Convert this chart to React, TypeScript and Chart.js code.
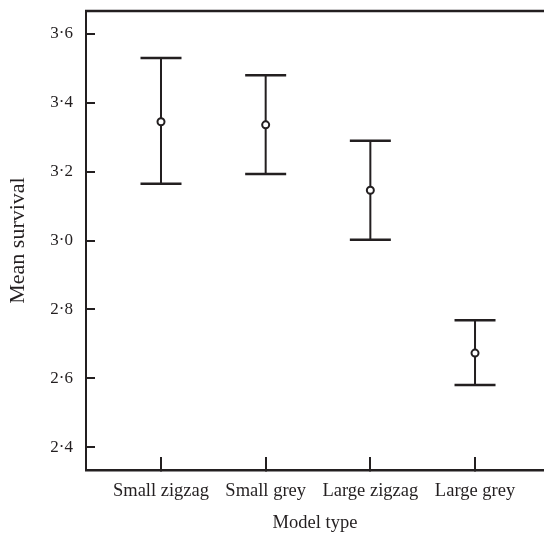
import React, { useEffect, useRef } from 'react';
import { Chart, registerables } from 'chart.js';

Chart.register(...registerables);

// ---- data ----
const categories = ['Small zigzag', 'Small grey', 'Large zigzag', 'Large grey'];
const meanSurvival = [3.345, 3.336, 3.146, 2.673];
const upperLimit = [3.53, 3.48, 3.29, 2.768];
const lowerLimit = [3.165, 3.193, 3.002, 2.58];
const yTickValues = [2.4, 2.6, 2.8, 3.0, 3.2, 3.4, 3.6];

const INK = '#231f20';
const FONT_FAMILY = '"Liberation Serif", "Times New Roman", serif';

const frameTop = {
  id: 'frameTop',
  afterDraw(chart: any) {
    const { ctx, chartArea } = chart;
    ctx.save();
    ctx.strokeStyle = INK;
    ctx.lineWidth = 2.5;
    ctx.beginPath();
    ctx.moveTo(chartArea.left - 1, chartArea.top);
    ctx.lineTo(chartArea.right, chartArea.top);
    ctx.stroke();
    ctx.restore();
  },
};

function zeroPadding(s: any) {
  s.paddingTop = 0;
  s.paddingBottom = 0;
  s.paddingLeft = 0;
  s.paddingRight = 0;
}

export default function App() {
  const ref = useRef<HTMLCanvasElement | null>(null);

  useEffect(() => {
    if (!ref.current) return;
    const xs = categories.map((_, i) => i + 1);

    const whiskerData: any[] = [];
    xs.forEach((x, i) => {
      whiskerData.push({ x, y: lowerLimit[i] });
      whiskerData.push({ x, y: upperLimit[i] });
      whiskerData.push({ x, y: null });
    });
    const capData: any[] = [];
    xs.forEach((x, i) => {
      capData.push({ x, y: upperLimit[i] });
      capData.push({ x, y: lowerLimit[i] });
    });
    const meanData = xs.map((x, i) => ({ x, y: meanSurvival[i] }));

    const tickFontY = { family: FONT_FAMILY, size: 17 };
    const tickFontX = { family: FONT_FAMILY, size: 18.5 };
    const titleFontX = { family: FONT_FAMILY, size: 18.5 };
    const titleFontY = { family: FONT_FAMILY, size: 22 };

    const chart = new Chart(ref.current, {
      type: 'scatter',
      data: {
        datasets: [
          {
            label: 'mean',
            data: meanData,
            order: 0,
            pointStyle: 'circle',
            pointRadius: 3.5,
            pointBorderWidth: 2,
            pointBackgroundColor: '#ffffff',
            pointBorderColor: INK,
            showLine: false,
          },
          {
            label: 'caps',
            data: capData,
            order: 1,
            pointStyle: 'line',
            pointRadius: 20.5,
            pointBorderWidth: 2.5,
            pointBorderColor: INK,
            showLine: false,
          },
          {
            label: 'whiskers',
            data: whiskerData,
            order: 2,
            showLine: true,
            spanGaps: false,
            borderColor: INK,
            borderWidth: 2,
            pointRadius: 0,
          },
        ],
      },
      options: {
        animation: false,
        responsive: false,
        devicePixelRatio: 1,
        layout: { autoPadding: false, padding: { top: 11, right: 0, left: 0, bottom: 0 } },
        plugins: {
          legend: { display: false },
          tooltip: { enabled: false },
        },
        scales: {
          x: {
            type: 'linear',
            min: 0.2835,
            max: 4.659,
            afterBuildTicks: (s: any) => {
              s.ticks = xs.map((v) => ({ value: v }));
            },
            afterFit: (s: any) => {
              s.height = 63;
              zeroPadding(s);
            },
            ticks: {
              callback: (_v: any, i: number) => categories[i],
              font: tickFontX,
              color: INK,
              padding: 23,
              maxRotation: 0,
              autoSkip: false,
            },
            grid: {
              drawOnChartArea: false,
              tickLength: -13,
              color: INK,
              lineWidth: 2,
            },
            border: { color: INK, width: 2.5 },
            title: {
              display: true,
              text: 'Model type',
              font: titleFontX,
              color: INK,
              padding: { top: 0, bottom: -1 },
            },
          },
          y: {
            type: 'linear',
            min: 2.3333,
            max: 3.6667,
            afterBuildTicks: (s: any) => {
              s.ticks = yTickValues.map((v) => ({ value: v }));
            },
            afterFit: (s: any) => {
              s.width = 86;
              zeroPadding(s);
            },
            ticks: {
              callback: (v: any) => Number(v).toFixed(1).replace('.', '·'),
              font: tickFontY,
              color: INK,
              padding: 22,
            },
            grid: {
              drawOnChartArea: false,
              tickLength: -9,
              color: INK,
              lineWidth: 2,
            },
            border: { color: INK, width: 2 },
            title: {
              display: true,
              text: 'Mean survival',
              font: titleFontY,
              color: INK,
              padding: { top: 5, bottom: 0 },
            },
          },
        },
      },
      plugins: [frameTop],
    } as any);

    return () => chart.destroy();
  }, []);

  return (
    <canvas
      ref={ref}
      width={544}
      height={533}
      style={{ position: 'fixed', left: 0, top: 0, width: 544, height: 533, background: '#fff' }}
    />
  );
}
